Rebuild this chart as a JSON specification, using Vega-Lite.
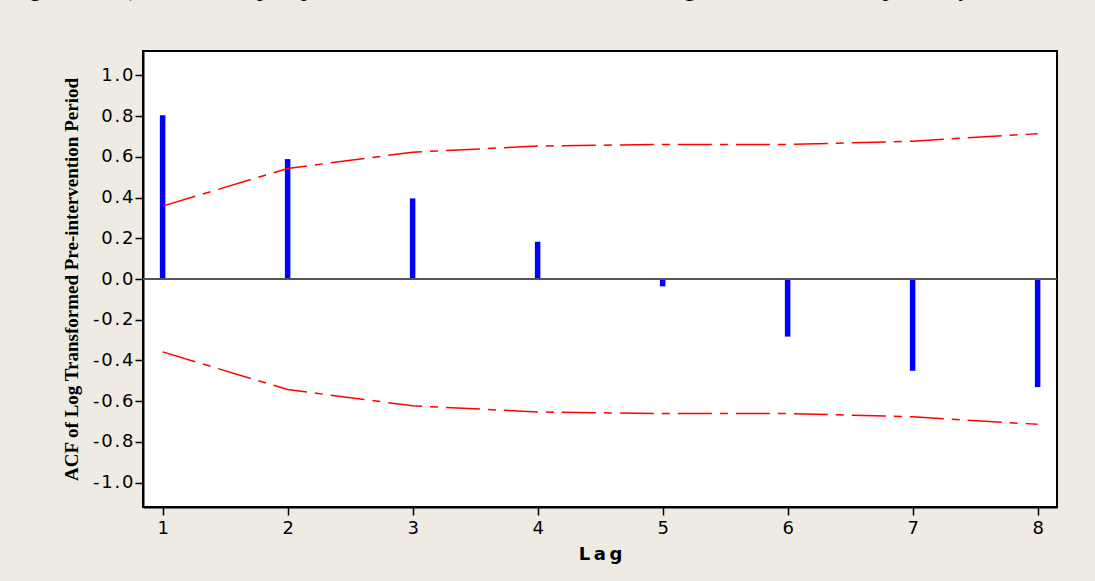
{
  "$schema": "https://vega.github.io/schema/vega-lite/v6.json",
  "autosize": {"type": "none"},
  "width": 914,
  "height": 456,
  "padding": {"left": 143, "top": 51, "right": 38, "bottom": 74},
  "background": "#EFEBE2",
  "title": {
    "text": "August, 2005) with the help of plots of the ACF and PACF shown in Figures 3.2 and 3.3 respectively.",
    "font": "Liberation Serif",
    "fontSize": 24,
    "fontWeight": "normal",
    "color": "#000000",
    "anchor": "start",
    "frame": "group",
    "dx": -143,
    "baseline": "alphabetic",
    "offset": 31
  },
  "config": {
    "view": {"fill": "#FFFFFF", "stroke": "#000000", "strokeWidth": 2},
    "axis": {
      "grid": false,
      "domainColor": "#000000",
      "domainWidth": 2,
      "tickColor": "#000000",
      "tickWidth": 1.5,
      "tickSize": 8,
      "labelFont": "DejaVu Sans",
      "labelFontSize": 18,
      "labelColor": "#000000",
      "titleColor": "#000000"
    }
  },
  "data": {
    "values": [
      {"lag": 1, "acf": 0.805, "upper": 0.358, "lower": -0.358},
      {"lag": 2, "acf": 0.589, "upper": 0.543, "lower": -0.543},
      {"lag": 3, "acf": 0.396, "upper": 0.623, "lower": -0.623},
      {"lag": 4, "acf": 0.183, "upper": 0.653, "lower": -0.653},
      {"lag": 5, "acf": -0.036, "upper": 0.661, "lower": -0.661},
      {"lag": 6, "acf": -0.283, "upper": 0.661, "lower": -0.661},
      {"lag": 7, "acf": -0.451, "upper": 0.677, "lower": -0.677},
      {"lag": 8, "acf": -0.531, "upper": 0.714, "lower": -0.714}
    ]
  },
  "encoding": {
    "x": {
      "field": "lag",
      "type": "quantitative",
      "scale": {"domain": [0.843, 8.155], "nice": false, "zero": false},
      "axis": {
        "values": [1, 2, 3, 4, 5, 6, 7, 8],
        "format": "d",
        "labelPadding": 4,
        "title": "L\u2009a\u2009g",
        "titleFont": "DejaVu Sans",
        "titleFontSize": 18,
        "titleFontWeight": "bold",
        "titlePadding": 8
      }
    }
  },
  "layer": [
    {
      "mark": {"type": "rule", "color": "#0000FF", "strokeWidth": 5.5},
      "encoding": {
        "y": {
          "field": "acf",
          "type": "quantitative",
          "scale": {"domain": [-1.12, 1.12], "nice": false, "zero": false},
          "axis": {
            "values": [-1, -0.8, -0.6, -0.4, -0.2, 0, 0.2, 0.4, 0.6, 0.8, 1],
            "format": ".1f",
            "labelExpr": "join(split(replace(datum.label, '\u2212', '-'), ''), '\u200a')",
            "labelPadding": 2,
            "title": "ACF of Log Transformed Pre-intervention Period",
            "titleFont": "Liberation Serif",
            "titleFontSize": 19,
            "titleFontWeight": "bold",
            "titlePadding": 11
          }
        },
        "y2": {"datum": 0}
      }
    },
    {
      "mark": {"type": "line", "color": "#FF0000", "strokeWidth": 1.5, "strokeDash": [34, 8, 8, 8]},
      "encoding": {
        "y": {"field": "upper", "type": "quantitative"}
      }
    },
    {
      "mark": {"type": "line", "color": "#FF0000", "strokeWidth": 1.5, "strokeDash": [34, 8, 8, 8]},
      "encoding": {
        "y": {"field": "lower", "type": "quantitative"}
      }
    },
    {
      "mark": {"type": "rule", "color": "#555555", "strokeWidth": 1.5},
      "encoding": {"x": null, "y": {"datum": 0, "type": "quantitative"}}
    }
  ]
}
